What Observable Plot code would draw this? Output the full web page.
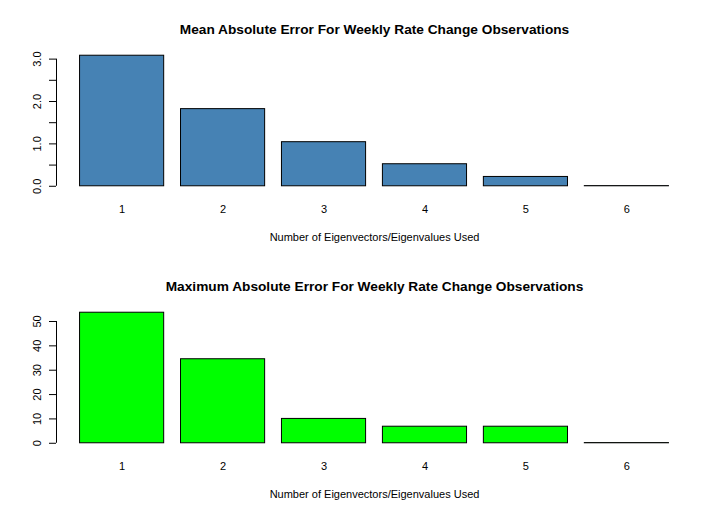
<!DOCTYPE html>
<html><head><meta charset="utf-8">
<script src="https://cdn.jsdelivr.net/npm/d3@7"></script>
<script src="https://cdn.jsdelivr.net/npm/@observablehq/plot@0.6"></script>
<style>body{margin:0;background:#fff} #chart svg{display:block}</style>
</head><body><div id="chart"></div>
<script>
const categories = ["1", "2", "3", "4", "5", "6"];
const meanAbsErr = [3.08, 1.82, 1.04, 0.52, 0.22, 0.004];
const maxAbsErr = [53.6, 34.5, 10.0, 6.8, 6.8, 0.08];
const topTicks = [0, 0.5, 1, 1.5, 2, 2.5, 3];
const topTickLabels = ["0.0", "", "1.0", "", "2.0", "", "3.0"];
const bottomTicks = [0, 10, 20, 30, 40, 50];
const bottomTickLabels = ["0", "10", "20", "30", "40", "50"];
const topTitle = "Mean Absolute Error For Weekly Rate Change Observations";
const bottomTitle = "Maximum Absolute Error For Weekly Rate Change Observations";
const xLabel = "Number of Eigenvectors/Eigenvalues Used";

const SPACE = 0.2, BARW = 1;
function panel(values, fill, title, ticks, tickLabels) {
  const data = categories.map((c, i) => ({c, v: values[i], x1: SPACE + i * (SPACE + BARW), x2: (i + 1) * (SPACE + BARW)}));
  const mids = data.map(d => (d.x1 + d.x2) / 2);
  const xmin = data[0].x1, xmax = data[data.length - 1].x2, xpad = 0.04 * (xmax - xmin);
  const ymax = d3.max(values);
  return Plot.plot({
    width: 720, height: 257,
    marginTop: 50, marginBottom: 66, marginLeft: 56, marginRight: 28,
    style: {fontFamily: "'Liberation Sans', Arial, sans-serif", fontSize: "11px", color: "#000", background: "#fff"},
    x: {domain: [xmin - xpad, xmax + xpad]},
    y: {domain: [-0.04 * ymax, 1.04 * ymax]},
    marks: [
      Plot.rectY(data, {x1: "x1", x2: "x2", y1: 0, y2: "v", fill, stroke: "#000", strokeWidth: 1}),
      Plot.ruleX([xmin - xpad], {y1: ticks[0], y2: ticks[ticks.length - 1], stroke: "#000"}),
      Plot.axisY({ticks, tickFormat: d => tickLabels[ticks.indexOf(d)], tickSize: 7, tickRotate: -90, tickPadding: 9, label: null, stroke: "#000", fill: "#000"}),
      Plot.axisX({ticks: mids, tickFormat: d => categories[mids.indexOf(d)], tickSize: 0, tickPadding: 14, label: null, fill: "#000"}),
      Plot.text([xLabel], {frameAnchor: "bottom", lineAnchor: "middle", dy: 46, fontSize: 11, fill: "#000"}),
      Plot.text([title], {frameAnchor: "top", lineAnchor: "middle", dy: -21, fontSize: 13.7, fontWeight: "bold", fill: "#000"})
    ]
  });
}
const el = document.getElementById("chart");
el.append(panel(meanAbsErr, "#4682B4", topTitle, topTicks, topTickLabels));
el.append(panel(maxAbsErr, "#00FF00", bottomTitle, bottomTicks, bottomTickLabels));
</script>
</body></html>
